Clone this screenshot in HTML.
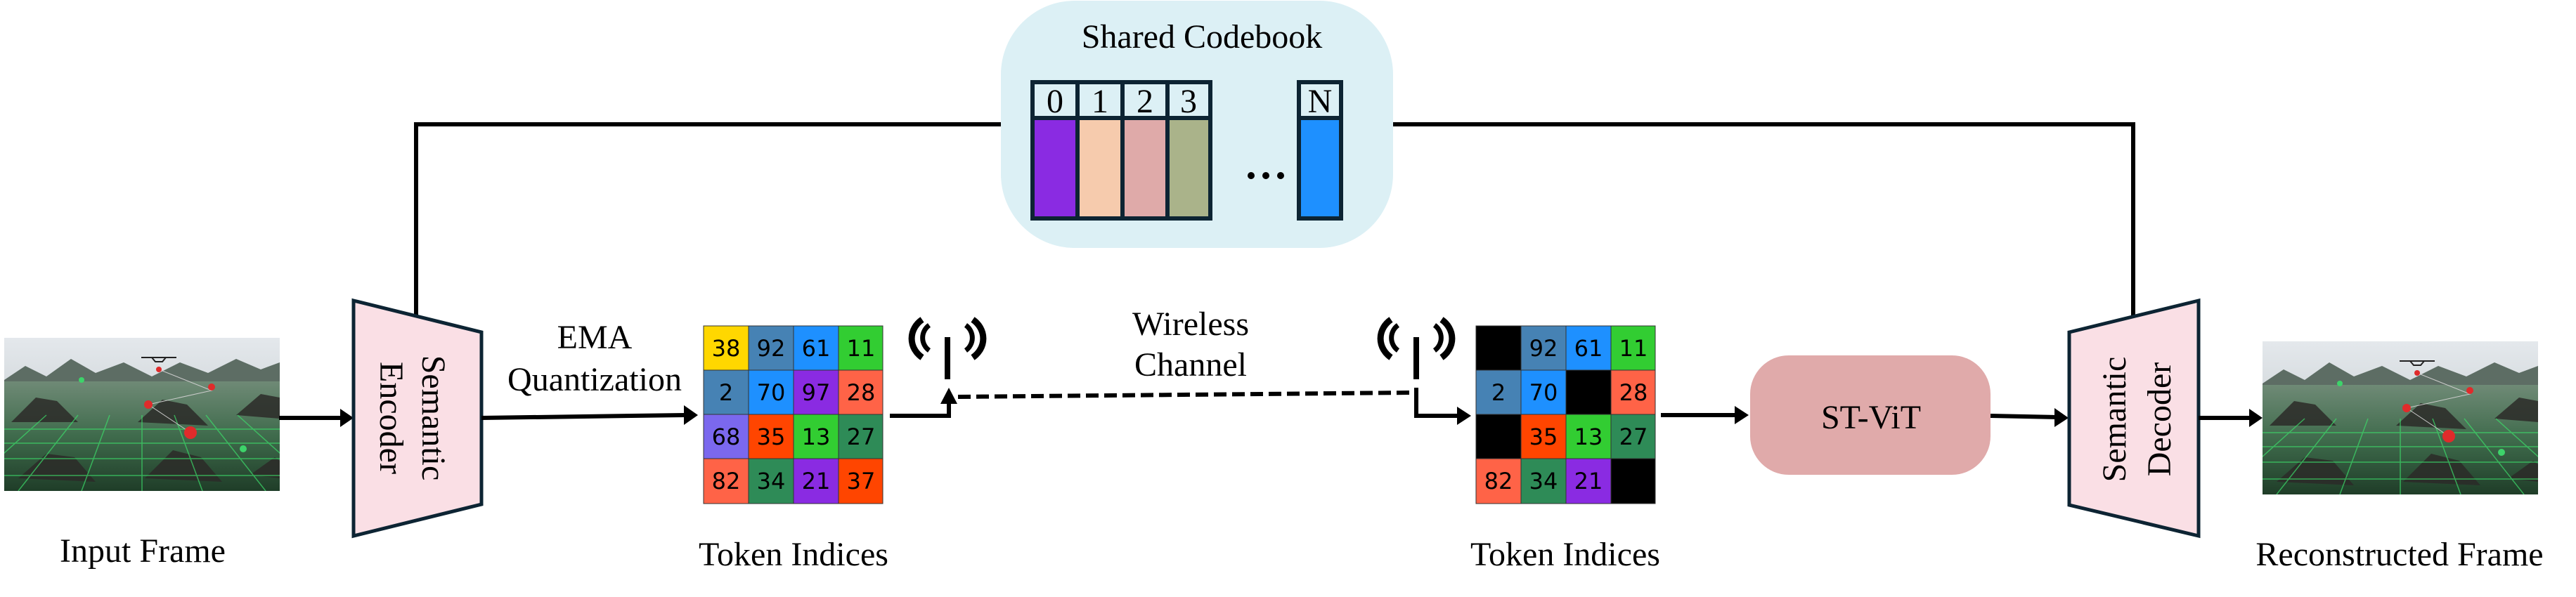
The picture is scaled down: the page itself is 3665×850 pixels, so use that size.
<!DOCTYPE html>
<html><head><meta charset="utf-8"><style>
html,body{margin:0;padding:0;background:#fff;}
svg{display:block;}
.t{font-family:"Liberation Serif",serif;font-size:48px;fill:#000;}
.n{font-family:"DejaVu Sans","Liberation Sans",sans-serif;font-size:32px;fill:#000;}
</style></head><body>
<svg width="3665" height="850" viewBox="0 0 3665 850" xmlns="http://www.w3.org/2000/svg">
<defs>
<clipPath id="clip"><rect x="0" y="0" width="392" height="218"/></clipPath>
<linearGradient id="sky" x1="0" y1="0" x2="0" y2="1"><stop offset="0" stop-color="#e4e8ec"/><stop offset="1" stop-color="#b9c2c4"/></linearGradient>
<linearGradient id="ground" x1="0" y1="0" x2="0" y2="1"><stop offset="0" stop-color="#6f8a76"/><stop offset="0.5" stop-color="#3f6b4c"/><stop offset="1" stop-color="#1f3d28"/></linearGradient>
<g id="scene">
<g clip-path="url(#clip)">
<rect x="0" y="0" width="392" height="218" fill="url(#sky)"/>
<path d="M0,60 L30,40 L60,55 L95,30 L130,50 L170,35 L210,55 L250,35 L290,50 L330,30 L365,45 L392,35 L392,218 L0,218Z" fill="#5d6d64"/>
<rect x="0" y="62" width="392" height="156" fill="url(#ground)"/>
<path d="M10,120 L45,85 L75,90 L105,120Z M190,120 L225,88 L260,95 L290,125Z M330,110 L365,80 L392,85 L392,115Z M20,200 L60,165 L100,170 L130,205Z M200,200 L240,160 L280,170 L310,205Z M350,195 L385,170 L392,175 L392,200Z" fill="#2c2a28" opacity="0.85"/>
<g stroke="#3ddc6a" stroke-width="1.5" opacity="0.7" fill="none">
<path d="M0,130 H392 M0,150 H392 M0,172 H392 M0,196 H392"/>
<path d="M196,110 L196,218 M150,110 L110,218 M105,110 L20,218 M60,110 L-60,218 M242,110 L282,218 M287,110 L372,218 M332,110 L452,218"/>
</g>
<path d="M220,45 L295,75 L205,95 L265,135" stroke="#ccc" stroke-width="1" fill="none"/>
<circle cx="205" cy="95" r="6" fill="#e02b2b"/><circle cx="265" cy="135" r="9" fill="#e02b2b"/><circle cx="295" cy="70" r="5" fill="#e02b2b"/><circle cx="220" cy="45" r="4" fill="#e02b2b"/>
<circle cx="340" cy="158" r="5" fill="#3dd36a"/><circle cx="110" cy="60" r="4" fill="#3dd36a"/>
<path d="M195,28 H245 M210,28 L215,34 H225 L230,28" stroke="#222" stroke-width="2" fill="none"/>
</g>
</g>
</defs>

<!-- feedback line -->
<polyline points="592,448 592,177 1424,177" fill="none" stroke="#000" stroke-width="6"/>
<polyline points="1982,177 3035,177 3035,452" fill="none" stroke="#000" stroke-width="6"/>

<!-- codebook -->
<rect x="1424" y="1" width="558" height="352" rx="105" ry="105" fill="#dcf0f5"/>
<text class="t" x="1710" y="68" text-anchor="middle">Shared Codebook</text>
<g stroke="#0d2433" stroke-width="6">
<rect x="1469" y="117" width="64" height="51" fill="#dcf0f5"/>
<rect x="1533" y="117" width="64" height="51" fill="#dcf0f5"/>
<rect x="1597" y="117" width="64" height="51" fill="#dcf0f5"/>
<rect x="1661" y="117" width="61" height="51" fill="#dcf0f5"/>
<rect x="1469" y="168" width="64" height="143" fill="#8a2be2"/>
<rect x="1533" y="168" width="64" height="143" fill="#f6cbad"/>
<rect x="1597" y="168" width="64" height="143" fill="#dfaaa9"/>
<rect x="1661" y="168" width="61" height="143" fill="#aab38a"/>
<rect x="1848" y="117" width="60" height="51" fill="#dcf0f5"/>
<rect x="1848" y="168" width="60" height="143" fill="#1e90ff"/>
</g>
<text class="t" x="1501" y="160" text-anchor="middle">0</text>
<text class="t" x="1565" y="160" text-anchor="middle">1</text>
<text class="t" x="1629" y="160" text-anchor="middle">2</text>
<text class="t" x="1691" y="160" text-anchor="middle">3</text>
<text class="t" x="1878" y="160" text-anchor="middle">N</text>
<circle cx="1780" cy="250" r="5"/><circle cx="1801" cy="250" r="5"/><circle cx="1822" cy="250" r="5"/>

<!-- input frame -->
<g transform="translate(6,481)"><use href="#scene"/></g>
<text class="t" x="203" y="800" text-anchor="middle">Input Frame</text>
<line x1="397" y1="595" x2="486" y2="595" stroke="#000" stroke-width="6"/>
<path d="M484,582 L503,595 L484,608Z"/>

<!-- encoder -->
<path d="M503,428 L685,473 L685,718 L503,763Z" fill="#fadfe5" stroke="#0d2433" stroke-width="5"/>
<text class="t" transform="translate(612,595) rotate(90)" text-anchor="middle" dominant-baseline="middle">Semantic</text>
<text class="t" transform="translate(552,595) rotate(90)" text-anchor="middle" dominant-baseline="middle">Encoder</text>

<text class="t" x="846" y="496" text-anchor="middle">EMA</text>
<text class="t" x="846" y="556" text-anchor="middle">Quantization</text>
<line x1="685" y1="595" x2="975" y2="591" stroke="#000" stroke-width="6"/>
<path d="M973,577 L993,591 L973,605Z"/>

<!-- grid 1 -->
<g stroke="#333" stroke-width="1">
<rect x="1001" y="464" width="64" height="63" fill="#ffd700"/><rect x="1065" y="464" width="64" height="63" fill="#4682b4"/><rect x="1129" y="464" width="64" height="63" fill="#1e90ff"/><rect x="1193" y="464" width="63" height="63" fill="#32cd32"/>
<rect x="1001" y="527" width="64" height="63" fill="#4682b4"/><rect x="1065" y="527" width="64" height="63" fill="#1e90ff"/><rect x="1129" y="527" width="64" height="63" fill="#8a2be2"/><rect x="1193" y="527" width="63" height="63" fill="#ff6347"/>
<rect x="1001" y="590" width="64" height="63" fill="#7b68ee"/><rect x="1065" y="590" width="64" height="63" fill="#ff4500"/><rect x="1129" y="590" width="64" height="63" fill="#32cd32"/><rect x="1193" y="590" width="63" height="63" fill="#2e8b57"/>
<rect x="1001" y="653" width="64" height="64" fill="#ff6347"/><rect x="1065" y="653" width="64" height="64" fill="#2e8b57"/><rect x="1129" y="653" width="64" height="64" fill="#8a2be2"/><rect x="1193" y="653" width="63" height="64" fill="#ff4500"/>
</g>
<text class="n" x="1033" y="507" text-anchor="middle">38</text><text class="n" x="1097" y="507" text-anchor="middle">92</text><text class="n" x="1161" y="507" text-anchor="middle">61</text><text class="n" x="1225" y="507" text-anchor="middle">11</text>
<text class="n" x="1033" y="570" text-anchor="middle">2</text><text class="n" x="1097" y="570" text-anchor="middle">70</text><text class="n" x="1161" y="570" text-anchor="middle">97</text><text class="n" x="1225" y="570" text-anchor="middle">28</text>
<text class="n" x="1033" y="633" text-anchor="middle">68</text><text class="n" x="1097" y="633" text-anchor="middle">35</text><text class="n" x="1161" y="633" text-anchor="middle">13</text><text class="n" x="1225" y="633" text-anchor="middle">27</text>
<text class="n" x="1033" y="696" text-anchor="middle">82</text><text class="n" x="1097" y="696" text-anchor="middle">34</text><text class="n" x="1161" y="696" text-anchor="middle">21</text><text class="n" x="1225" y="696" text-anchor="middle">37</text>
<text class="t" x="1129" y="805" text-anchor="middle">Token Indices</text>

<!-- antenna 1 & link -->
<polyline points="1266,592 1350,592 1350,570" fill="none" stroke="#000" stroke-width="6"/>
<path d="M1338,575 L1350,552 L1362,575Z"/>
<line x1="1363" y1="565" x2="2008" y2="559" stroke="#000" stroke-width="6" stroke-dasharray="18,8"/>
<g id="ant" fill="none" stroke="#000">
<line x1="1348" y1="480" x2="1348" y2="540" stroke-width="8"/>
<path d="M1322,463 A22,22 0 0,0 1322,499 M1374,463 A22,22 0 0,1 1374,499" stroke-width="7"/>
<path d="M1312,455 A38,34 0 0,0 1312,509 M1384,455 A38,34 0 0,1 1384,509" stroke-width="9"/>
</g>
<g transform="translate(667,0)"><use href="#ant"/></g>
<text class="t" x="1694" y="477" text-anchor="middle">Wireless</text>
<text class="t" x="1694" y="535" text-anchor="middle">Channel</text>
<polyline points="2015,552 2015,592 2075,592" fill="none" stroke="#000" stroke-width="6"/>
<path d="M2073,579 L2093,592 L2073,605Z"/>

<!-- grid 2 -->
<g stroke="#333" stroke-width="1">
<rect x="2100" y="464" width="64" height="63" fill="#000"/><rect x="2164" y="464" width="64" height="63" fill="#4682b4"/><rect x="2228" y="464" width="64" height="63" fill="#1e90ff"/><rect x="2292" y="464" width="63" height="63" fill="#32cd32"/>
<rect x="2100" y="527" width="64" height="63" fill="#4682b4"/><rect x="2164" y="527" width="64" height="63" fill="#1e90ff"/><rect x="2228" y="527" width="64" height="63" fill="#000"/><rect x="2292" y="527" width="63" height="63" fill="#ff6347"/>
<rect x="2100" y="590" width="64" height="63" fill="#000"/><rect x="2164" y="590" width="64" height="63" fill="#ff4500"/><rect x="2228" y="590" width="64" height="63" fill="#32cd32"/><rect x="2292" y="590" width="63" height="63" fill="#2e8b57"/>
<rect x="2100" y="653" width="64" height="64" fill="#ff6347"/><rect x="2164" y="653" width="64" height="64" fill="#2e8b57"/><rect x="2228" y="653" width="64" height="64" fill="#8a2be2"/><rect x="2292" y="653" width="63" height="64" fill="#000"/>
</g>
<text class="n" x="2196" y="507" text-anchor="middle">92</text><text class="n" x="2260" y="507" text-anchor="middle">61</text><text class="n" x="2324" y="507" text-anchor="middle">11</text>
<text class="n" x="2132" y="570" text-anchor="middle">2</text><text class="n" x="2196" y="570" text-anchor="middle">70</text><text class="n" x="2324" y="570" text-anchor="middle">28</text>
<text class="n" x="2196" y="633" text-anchor="middle">35</text><text class="n" x="2260" y="633" text-anchor="middle">13</text><text class="n" x="2324" y="633" text-anchor="middle">27</text>
<text class="n" x="2132" y="696" text-anchor="middle">82</text><text class="n" x="2196" y="696" text-anchor="middle">34</text><text class="n" x="2260" y="696" text-anchor="middle">21</text>
<text class="t" x="2227" y="805" text-anchor="middle">Token Indices</text>

<line x1="2363" y1="591" x2="2470" y2="591" stroke="#000" stroke-width="6"/>
<path d="M2468,578 L2488,591 L2468,604Z"/>

<!-- ST-ViT -->
<rect x="2490" y="506" width="342" height="170" rx="55" ry="55" fill="#e0aaaa"/>
<text class="t" x="2662" y="610" text-anchor="middle">ST-ViT</text>
<line x1="2832" y1="592" x2="2925" y2="594" stroke="#000" stroke-width="6"/>
<path d="M2923,581 L2943,595 L2923,608Z"/>

<!-- decoder -->
<path d="M2944,473 L3128,428 L3128,763 L2944,719Z" fill="#fadfe5" stroke="#0d2433" stroke-width="5"/>
<text class="t" transform="translate(3013,597) rotate(-90)" text-anchor="middle" dominant-baseline="middle">Semantic</text>
<text class="t" transform="translate(3077,597) rotate(-90)" text-anchor="middle" dominant-baseline="middle">Decoder</text>
<line x1="3128" y1="595" x2="3202" y2="595" stroke="#000" stroke-width="6"/>
<path d="M3200,582 L3219,595 L3200,608Z"/>

<g transform="translate(3219,486)"><use href="#scene"/></g>
<text class="t" x="3414" y="805" text-anchor="middle">Reconstructed Frame</text>
</svg>
</body></html>
